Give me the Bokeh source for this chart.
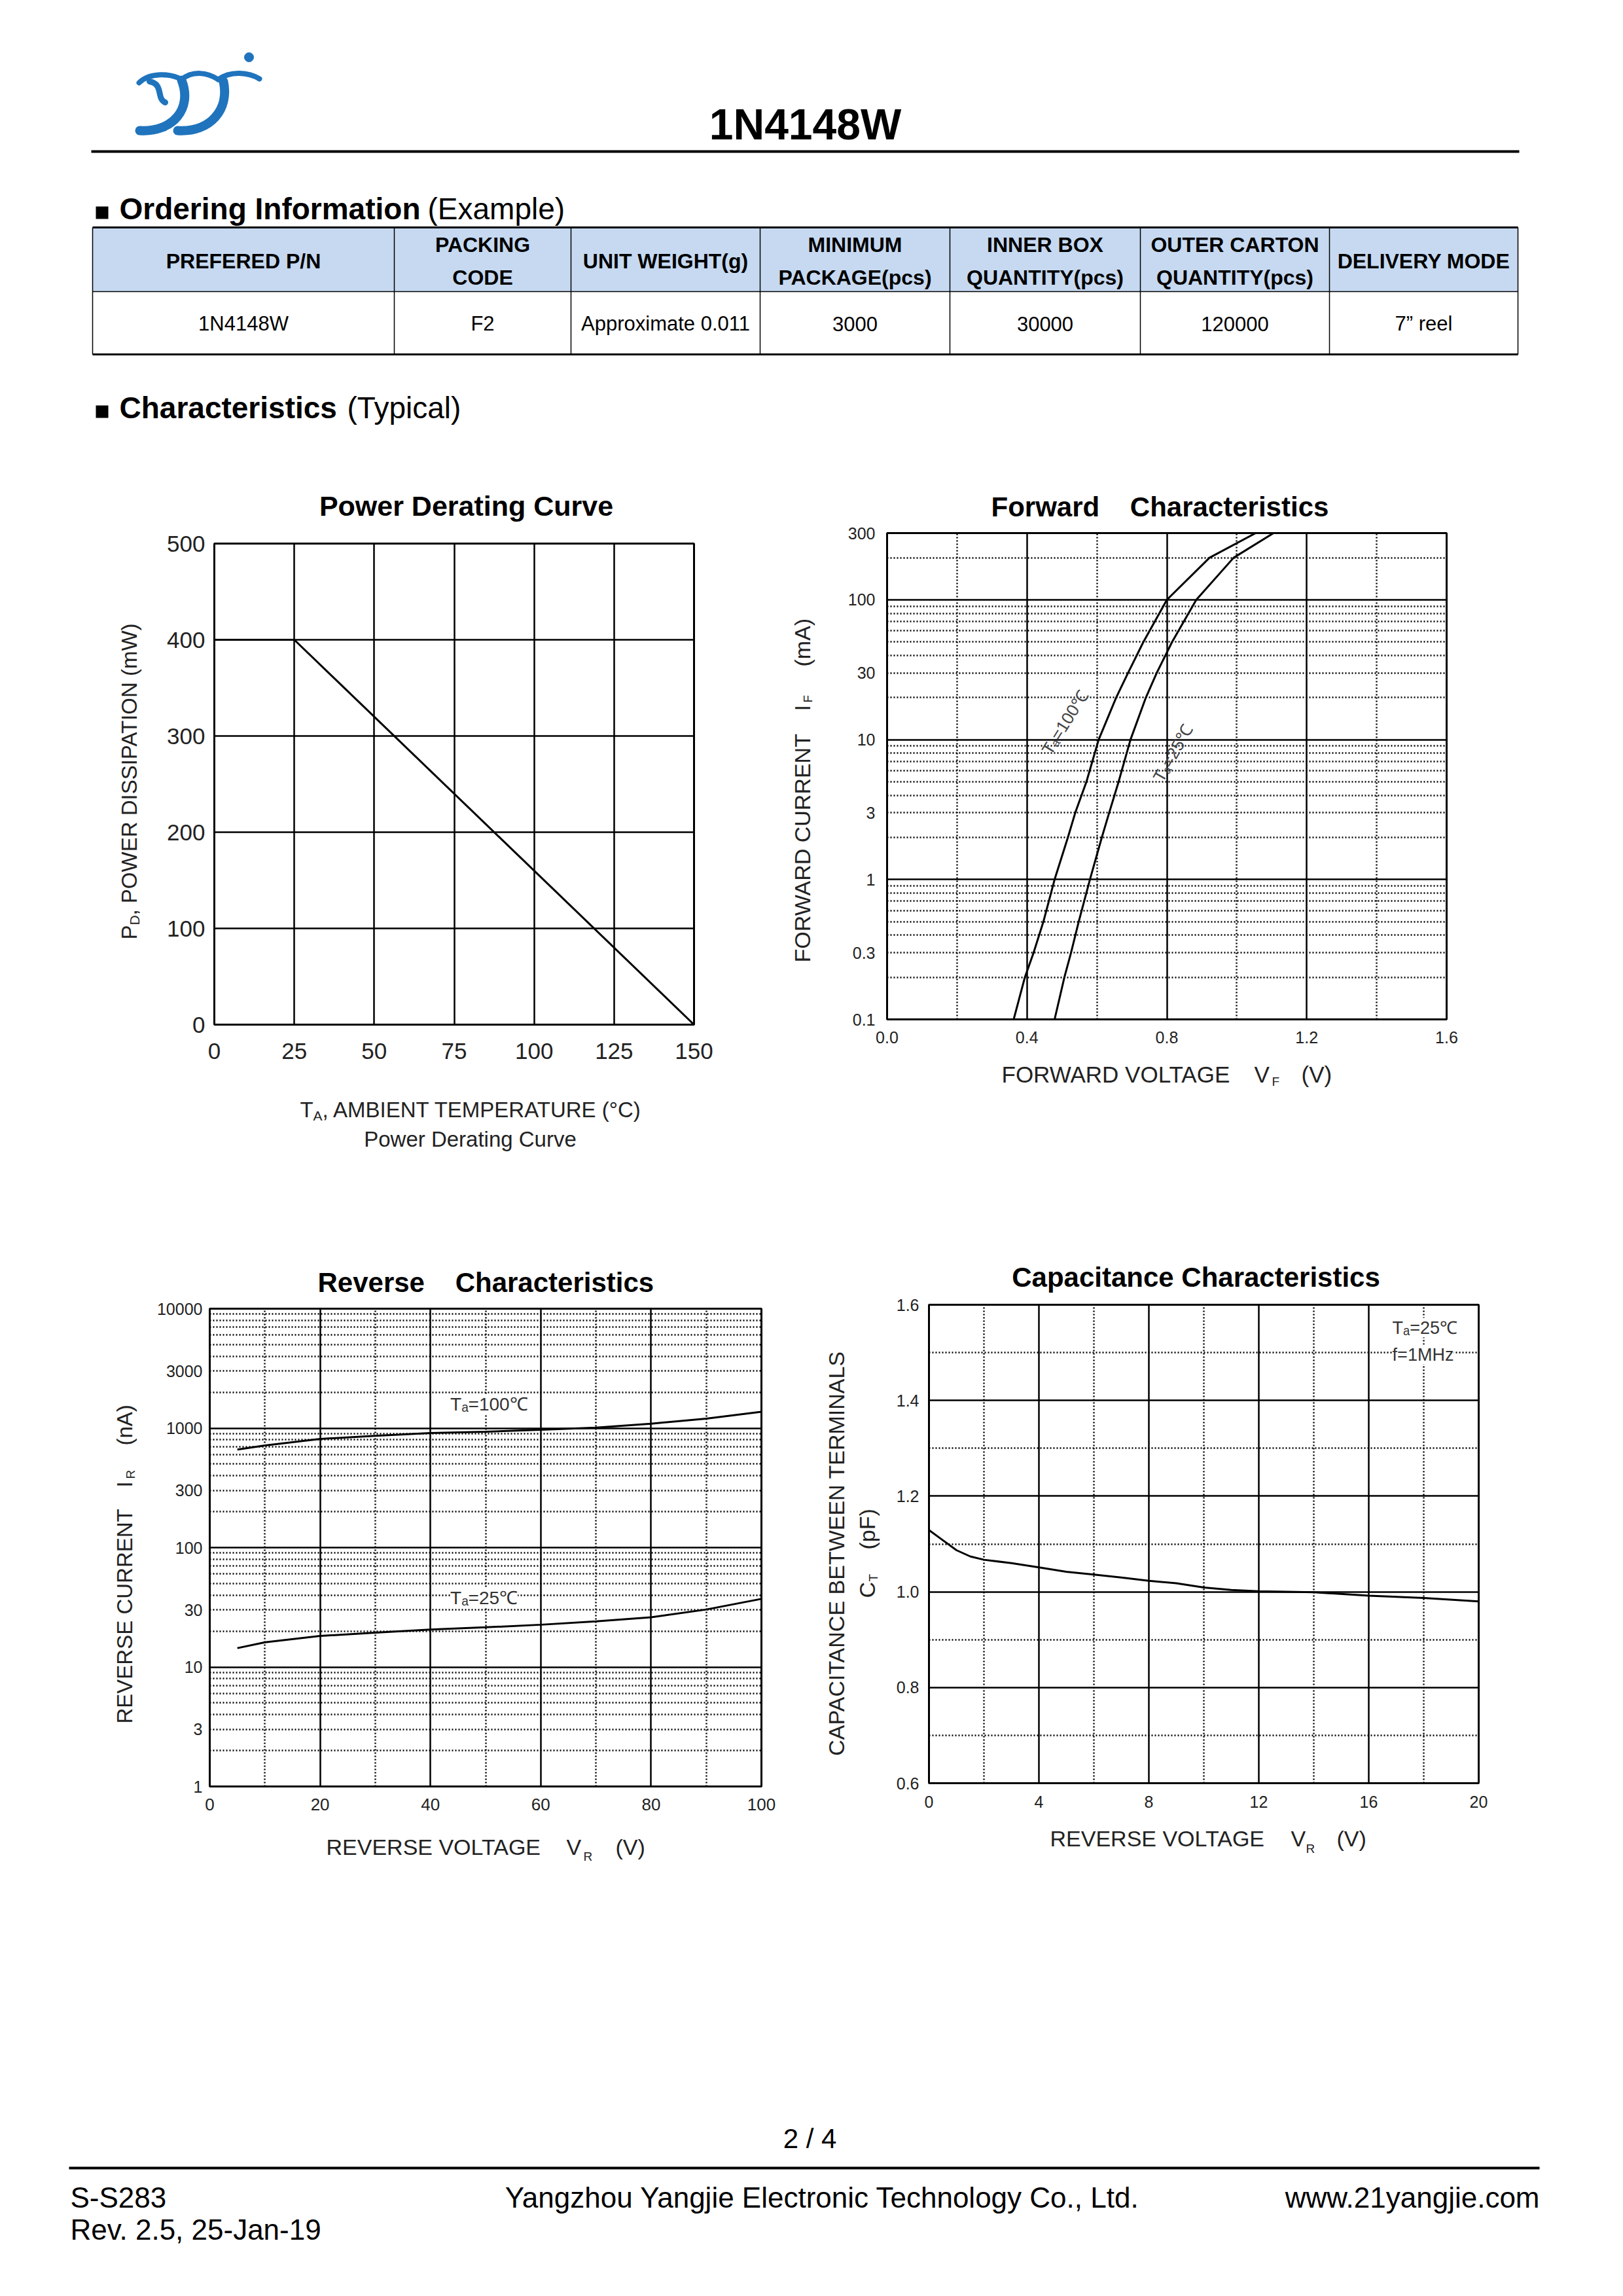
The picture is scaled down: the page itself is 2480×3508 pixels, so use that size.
import math
from bokeh.plotting import figure
from bokeh.models import Range1d, FixedTicker, Label, PrintfTickFormatter, CustomJSTickFormatter, Spacer
from bokeh.layouts import column, row
from bokeh.embed import file_html
from bokeh.resources import INLINE
from bokeh.core.properties import value

FONT = "Liberation Sans"

# ---------------- data ----------------
pd_temp = [0, 25, 150]
pd_power = [400, 400, 0]

fwd_current = [0.1, 0.2, 0.3, 0.5, 1, 2, 3, 5, 10, 20, 30, 50, 100, 200, 300]
fwd_v_100 = [0.362, 0.394, 0.419, 0.447, 0.479, 0.517, 0.538, 0.570, 0.605, 0.655, 0.689, 0.733, 0.800, 0.922, 1.054]
fwd_v_25 = [0.479, 0.507, 0.526, 0.548, 0.580, 0.614, 0.635, 0.662, 0.696, 0.740, 0.771, 0.815, 0.884, 0.991, 1.105]

rev_voltage = [5, 10, 20, 30, 40, 50, 60, 70, 80, 90, 100]
rev_i_100 = [661, 716, 813, 861, 910, 933, 968, 1008, 1090, 1200, 1370]
rev_i_25 = [14.4, 16.1, 18.2, 19.4, 20.6, 21.5, 22.6, 24.1, 26.1, 30.3, 37.2]

cap_voltage = [0, 0.5, 1, 1.5, 2, 3, 4, 5, 6, 7, 8, 9, 10, 11, 12, 14, 16, 18, 20]
cap_pf = [1.129, 1.108, 1.087, 1.074, 1.067, 1.060, 1.051, 1.042, 1.036, 1.030, 1.023,
          1.018, 1.009, 1.004, 1.001, 0.999, 0.992, 0.987, 0.980]

pd_xticks = [0, 25, 50, 75, 100, 125, 150]
pd_yticks = [0, 100, 200, 300, 400, 500]
fwd_xticks = [0.0, 0.4, 0.8, 1.2, 1.6]
fwd_yticks = [0.1, 0.3, 1, 3, 10, 30, 100, 300]
rev_xticks = [0, 20, 40, 60, 80, 100]
rev_yticks = [1, 3, 10, 30, 100, 300, 1000, 3000, 10000]
cap_xticks = [0, 4, 8, 12, 16, 20]
cap_yticks = [0.6, 0.8, 1.0, 1.2, 1.4, 1.6]

table_head = [["PREFERED P/N"], ["PACKING", "CODE"], ["UNIT WEIGHT(g)"], ["MINIMUM", "PACKAGE(pcs)"],
              ["INNER BOX", "QUANTITY(pcs)"], ["OUTER CARTON", "QUANTITY(pcs)"], ["DELIVERY MODE"]]
table_row = ["1N4148W", "F2", "Approximate 0.011", "3000", "30000", "120000", "7\u201d reel"]

NB = "\u00a0"
TXT = "#222222"


# ---------------- helpers ----------------
def canvas(w, h, x0, x1, ytop, ybot, mbt=0, mbb=0):
    p = figure(width=w, height=h, x_range=Range1d(x0, x1), y_range=Range1d(ybot, ytop),
               output_backend="svg", toolbar_location=None,
               min_border_left=0, min_border_right=0, min_border_top=mbt, min_border_bottom=mbb,
               x_axis_type=None, y_axis_type=None)
    p.outline_line_color = None
    p.background_fill_color = "white"
    p.border_fill_color = "white"
    return p


def ptext(p, xs, ys, texts, size, bold=False, align="left", angle=0, color="black"):
    p.text(x=xs, y=ys, text=texts, text_font=value(FONT), text_font_size=f"{size}px",
           text_font_style="bold" if bold else "normal", text_align=align,
           text_baseline="middle", text_color=color, angle=angle, angle_units="deg")


def chart(frame, bounds, xr, yr, log=False):
    fl, ft, fr, fb = frame
    L, T, R, B = bounds
    p = figure(frame_width=fr - fl, frame_height=fb - ft,
               x_range=Range1d(*xr), y_range=Range1d(*yr),
               y_axis_type="log" if log else "linear",
               output_backend="svg", toolbar_location=None,
               min_border_left=fl - L, min_border_right=R - fr,
               min_border_top=ft - T, min_border_bottom=B - fb)
    p.background_fill_color = "white"
    p.border_fill_color = "white"
    p.outline_line_color = "black"
    p.outline_line_width = 3
    for ax in (p.xaxis[0], p.yaxis[0]):
        ax.axis_line_color = None
        ax.major_tick_line_color = None
        ax.minor_tick_line_color = None
        ax.major_tick_in = 0
        ax.major_tick_out = 0
        ax.major_label_text_font = FONT
        ax.major_label_text_color = TXT
    return p


def grid(p, xmaj, xmin, ymaj, ymin):
    p.xgrid.ticker = FixedTicker(ticks=xmaj, minor_ticks=xmin)
    p.ygrid.ticker = FixedTicker(ticks=ymaj, minor_ticks=ymin)
    for g in (p.xgrid[0], p.ygrid[0]):
        g.grid_line_color = "black"
        g.grid_line_width = 2.5
        g.grid_line_alpha = 1
        g.minor_grid_line_color = "black"
        g.minor_grid_line_width = 2.5
        g.minor_grid_line_dash = "2 3"


def block(fig, frame, bounds, box):
    """Chart block: top canvas, (left canvas + figure + spacer), bottom canvas."""
    fl, ft, fr, fb = frame
    L, T, R, B = bounds
    BL, BT, BR, BB = box
    top = canvas(BR - BL, T - BT, BL, BR, BT, T)
    left = canvas(L - BL, B - T, BL, L, ft, fb, mbt=ft - T, mbb=B - fb)
    bottom = canvas(BR - BL, BB - B, BL, BR, B, BB)
    mid = row(left, fig, Spacer(width=BR - R, height=B - T))
    return column(top, mid, bottom), top, left, bottom


# ---------------- header ----------------
hdr = canvas(2472, 730, 0, 2472, 0, 730)

# logo
blue = "#1F74BD"
hdr.bezier(x0=[212, 277, 333], y0=[126, 121, 121], x1=[277, 333, 396], y1=[121, 121, 120],
           cx0=[228, 294, 352], cy0=[110, 107, 107], cx1=[260, 316, 380], cy1=[111, 110, 110],
           line_color=blue, line_width=8, line_cap="round")
hdr.bezier(x0=[228], y0=[124], x1=[252], y1=[156], cx0=[250], cy0=[128], cx1=[238], cy1=[150],
           line_color=blue, line_width=9, line_cap="round")
hdr.bezier(x0=[277, 341], y0=[122, 124], x1=[213, 271], y1=[199, 199],
           cx0=[294, 350], cy0=[165, 166], cx1=[264, 322], cy1=[202, 202],
           line_color=blue, line_width=14, line_cap="round")
hdr.scatter([380], [87], size=14, color=blue)

ptext(hdr, [1230], [189], ["1N4148W"], 66, bold=True, align="center")
hdr.line([139, 2321], [231, 231], line_color="black", line_width=4)

# section headings
hdr.quad(left=[146, 146], right=[165, 165], top=[315, 619], bottom=[334, 638], fill_color="black", line_color=None)
ptext(hdr, [182], [318], ["Ordering Information"], 46, bold=True)
ptext(hdr, [653], [318], ["(Example)"], 46)
ptext(hdr, [182], [622], ["Characteristics"], 46, bold=True)
ptext(hdr, [530], [622], ["(Typical)"], 46)

# table
col_edges = [141, 602, 872, 1161, 1451, 1742, 2031, 2319]
row_edges = [347, 445, 541]
hdr.quad(left=[col_edges[0]], right=[col_edges[-1]], top=[row_edges[0]], bottom=[row_edges[1]],
         fill_color="#C6D9F1", line_color=None)
hdr.segment(x0=[col_edges[0]] * 3, x1=[col_edges[-1]] * 3, y0=row_edges, y1=row_edges,
            line_color="black", line_width=[3, 1.5, 3])
hdr.segment(x0=col_edges, x1=col_edges, y0=[row_edges[0]] * len(col_edges), y1=[row_edges[-1]] * len(col_edges),
            line_color="black", line_width=1.5)
centers = [(a + b) / 2 for a, b in zip(col_edges[:-1], col_edges[1:])]
hx, hy, ht = [], [], []
for cx, lines in zip(centers, table_head):
    if len(lines) == 1:
        hx.append(cx); hy.append(398); ht.append(lines[0])
    else:
        hx += [cx, cx]; hy += [373, 423]; ht += lines
ptext(hdr, hx, hy, ht, 32, bold=True, align="center")
ptext(hdr, centers, [494] * len(centers), table_row, 31, align="center")

# ---------------- chart 1: power derating ----------------
fr1, bd1, bx1 = (327, 830, 1060, 1565), (247, 800, 1090, 1648), (150, 730, 1110, 1800)
f1 = chart(fr1, bd1, (0, 150), (0, 500))
grid(f1, pd_xticks, [], pd_yticks, [])
f1.xaxis.ticker = FixedTicker(ticks=pd_xticks)
f1.yaxis.ticker = FixedTicker(ticks=pd_yticks)
f1.xaxis.major_label_text_font_size = "35px"
f1.yaxis.major_label_text_font_size = "35px"
f1.xaxis.major_label_standoff = 28
f1.yaxis.major_label_standoff = 14
f1.line(pd_temp, pd_power, line_color="black", line_width=3)
b1, t1, l1, o1 = block(f1, fr1, bd1, bx1)
ptext(t1, [712], [772], ["Power Derating Curve"], 43, bold=True, align="center")
ptext(l1, [197], [1435], ["P"], 33, angle=90, color=TXT)
ptext(l1, [205], [1413], ["D"], 21, angle=90, color=TXT)
ptext(l1, [197], [1398], [", POWER DISSIPATION (mW)"], 33, angle=90, color=TXT)
ptext(o1, [458], [1695], ["T"], 33, color=TXT)
ptext(o1, [478], [1704], ["A"], 21, color=TXT)
ptext(o1, [492], [1695], [", AMBIENT TEMPERATURE (\u00b0C)"], 33, color=TXT)
ptext(o1, [718], [1740], ["Power Derating Curve"], 33, align="center", color=TXT)

# ---------------- chart 2: forward ----------------
fr2, bd2, bx2 = (1355, 814, 2210, 1557), (1290, 799, 2240, 1612), (1150, 730, 2280, 1800)
f2 = chart(fr2, bd2, (0, 1.6), (0.1, 300), log=True)
grid(f2, fwd_xticks, [0.2, 0.6, 1.0, 1.4],
     [0.1, 1, 10, 100], [m * 10 ** k for k in (-1, 0, 1) for m in range(2, 10)] + [200])
f2.xaxis.ticker = FixedTicker(ticks=fwd_xticks)
f2.yaxis.ticker = FixedTicker(ticks=fwd_yticks)
f2.xaxis.formatter = PrintfTickFormatter(format="%.1f")
f2.yaxis.formatter = CustomJSTickFormatter(code="return tick.toString()")
f2.xaxis.major_label_text_font_size = "25px"
f2.yaxis.major_label_text_font_size = "25px"
f2.xaxis.major_label_standoff = 18
f2.yaxis.major_label_standoff = 18
f2.line(fwd_v_100, fwd_current, line_color="black", line_width=3)
f2.line(fwd_v_25, fwd_current, line_color="black", line_width=3)
f2.add_layout(Label(x=0.509, y=13.3, text="T\u2090=100\u2103", text_font=FONT, text_font_size="26px",
                    text_color="#444444", text_align="center", text_baseline="middle", angle=58, angle_units="deg"))
f2.add_layout(Label(x=0.818, y=8.0, text="T\u2090=25\u2103", text_font=FONT, text_font_size="26px",
                    text_color="#444444", text_align="center", text_baseline="middle", angle=60, angle_units="deg"))
b2, t2, l2, o2 = block(f2, fr2, bd2, bx2)
ptext(t2, [1514], [774], ["Forward" + NB * 4 + "Characteristics"], 42, bold=True)
ptext(o2, [1530], [1641], ["FORWARD VOLTAGE"], 35, color=TXT)
ptext(o2, [1916], [1641], ["V"], 35, color=TXT)
ptext(o2, [1943], [1652], ["F"], 19, color=TXT)
ptext(o2, [1988], [1641], ["(V)"], 35, color=TXT)
ptext(l2, [1225], [1470], ["FORWARD CURRENT"], 34, angle=90, color=TXT)
ptext(l2, [1225], [1086], ["I"], 34, angle=90, color=TXT)
ptext(l2, [1234], [1073], ["F"], 19, angle=90, color=TXT)
ptext(l2, [1225], [1018], ["(mA)"], 34, angle=90, color=TXT)

# ---------------- chart 3: reverse ----------------
fr3, bd3, bx3 = (320, 1999, 1163, 2729), (230, 1984, 1188, 2784), (140, 1800, 1210, 2880)
f3 = chart(fr3, bd3, (0, 100), (1, 10000), log=True)
grid(f3, rev_xticks, [10, 30, 50, 70, 90],
     [1, 10, 100, 1000, 10000], [m * 10 ** k for k in (0, 1, 2, 3) for m in range(2, 10)])
f3.xaxis.ticker = FixedTicker(ticks=rev_xticks)
f3.yaxis.ticker = FixedTicker(ticks=rev_yticks)
f3.yaxis.formatter = CustomJSTickFormatter(code="return tick.toString()")
f3.xaxis.major_label_text_font_size = "26px"
f3.yaxis.major_label_text_font_size = "25px"
f3.xaxis.major_label_standoff = 18
f3.yaxis.major_label_standoff = 11
f3.line(rev_voltage, rev_i_100, line_color="black", line_width=3)
f3.line(rev_voltage, rev_i_25, line_color="black", line_width=3)
for yv, s in ((1585, "T\u2090=100\u2103"), (37.8, "T\u2090=25\u2103")):
    f3.add_layout(Label(x=43.6, y=yv, text=s, text_font=FONT, text_font_size="28px", text_color="#333333",
                        text_align="left", text_baseline="middle", background_fill_color="white"))
b3, t3, l3, o3 = block(f3, fr3, bd3, bx3)
ptext(t3, [485], [1959], ["Reverse" + NB * 4 + "Characteristics"], 42, bold=True)
ptext(o3, [498], [2821], ["REVERSE VOLTAGE"], 34, color=TXT)
ptext(o3, [865], [2821], ["V"], 34, color=TXT)
ptext(o3, [891], [2836], ["R"], 19, color=TXT)
ptext(o3, [940], [2821], ["(V)"], 34, color=TXT)
ptext(l3, [190], [2633], ["REVERSE CURRENT"], 33, angle=90, color=TXT)
ptext(l3, [190], [2272], ["I"], 33, angle=90, color=TXT)
ptext(l3, [199], [2259], ["R"], 19, angle=90, color=TXT)
ptext(l3, [190], [2208], ["(nA)"], 33, angle=90, color=TXT)

# ---------------- chart 4: capacitance ----------------
fr4, bd4, bx4 = (1419, 1993, 2259, 2724), (1359, 1976, 2284, 2779), (1230, 1800, 2319, 2880)
f4 = chart(fr4, bd4, (0, 20), (0.6, 1.6))
grid(f4, cap_xticks, [2, 6, 10, 14, 18], cap_yticks, [0.7, 0.9, 1.1, 1.3, 1.5])
f4.xaxis.ticker = FixedTicker(ticks=cap_xticks)
f4.yaxis.ticker = FixedTicker(ticks=cap_yticks)
f4.yaxis.formatter = PrintfTickFormatter(format="%.1f")
f4.xaxis.major_label_text_font_size = "25px"
f4.yaxis.major_label_text_font_size = "25px"
f4.xaxis.major_label_standoff = 19
f4.yaxis.major_label_standoff = 15
f4.line(cap_voltage, cap_pf, line_color="black", line_width=3)
for yv, s in ((1.552, "T\u2090=25\u2103"), (1.496, "f=1MHz")):
    f4.add_layout(Label(x=16.86, y=yv, text=s, text_font=FONT, text_font_size="27px", text_color="#333333",
                        text_align="left", text_baseline="middle", background_fill_color="white"))
b4, t4, l4, o4 = block(f4, fr4, bd4, bx4)
ptext(t4, [1827], [1951], ["Capacitance Characteristics"], 42, bold=True, align="center")
ptext(o4, [1604], [2808], ["REVERSE VOLTAGE"], 34, color=TXT)
ptext(o4, [1972], [2808], ["V"], 34, color=TXT)
ptext(o4, [1995], [2824], ["R"], 19, color=TXT)
ptext(o4, [2042], [2808], ["(V)"], 34, color=TXT)
ptext(l4, [1277], [2373], ["CAPACITANCE BETWEEN TERMINALS"], 34, angle=90, align="center", color=TXT)
ptext(l4, [1324], [2441], ["C"], 34, angle=90, color=TXT)
ptext(l4, [1334], [2416], ["T"], 19, angle=90, color=TXT)
ptext(l4, [1324], [2367], ["(pF)"], 34, angle=90, color=TXT)

# ---------------- footer ----------------
ftr = canvas(2472, 620, 0, 2472, 2880, 3500)
ptext(ftr, [1237], [3267], ["2 / 4"], 42, align="center")
ftr.line([105, 2352], [3312, 3312], line_color="black", line_width=4)
ptext(ftr, [107, 107], [3357, 3406], ["S-S283", "Rev. 2.5, 25-Jan-19"], 44)
ptext(ftr, [1256], [3357], ["Yangzhou Yangjie Electronic Technology Co., Ltd."], 44, align="center")
ptext(ftr, [2352], [3357], ["www.21yangjie.com"], 44, align="right")

# ---------------- layout ----------------
row1 = row(Spacer(width=bx1[0], height=1070), b1, Spacer(width=bx2[0] - bx1[2], height=1070), b2)
row2 = row(Spacer(width=bx3[0], height=1080), b3, Spacer(width=bx4[0] - bx3[2], height=1080), b4)
page = column(hdr, row1, row2, ftr)

open("out.html", "w").write(file_html(page, INLINE))
